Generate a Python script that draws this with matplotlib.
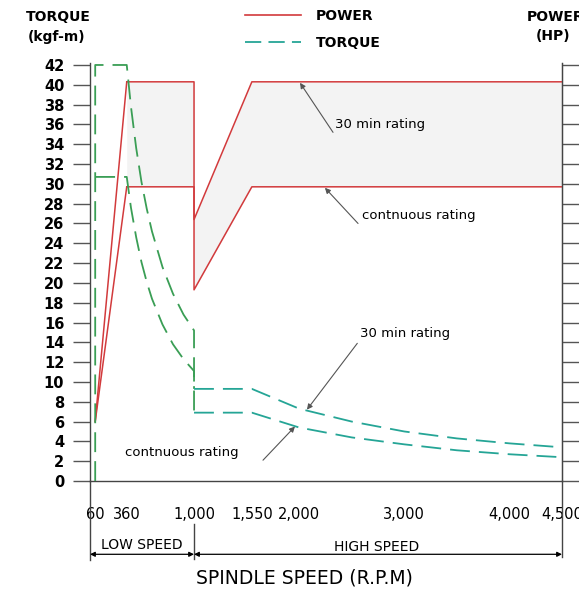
import matplotlib
matplotlib.use('Agg')
import matplotlib.pyplot as plt
from matplotlib.lines import Line2D

# ---------------- data ----------------
# power (HP) : low-speed rise from 60 to 360 rpm
speed_rise = [60, 360]
power_30_rise = [6.0, 40.3]
power_cont_rise = [6.0, 29.7]
# power (HP) : 360 -> 4500 rpm
speed_power = [360, 1000, 1000, 1550, 4500]
power_30 = [40.3, 40.3, 26.4, 40.3, 40.3]
power_cont = [29.7, 29.7, 19.3, 29.7, 29.7]

# torque (kgf-m) low speed
speed_low_30 = [60, 60, 360, 400, 450, 500, 550, 600, 700, 800, 900, 1000, 1000]
torque_low_30 = [0, 42, 42, 37.8, 33.6, 30.2, 27.5, 25.2, 21.6, 18.9, 16.8, 15.2, 9.3]
speed_low_cont = [60, 360, 400, 450, 500, 550, 600, 700, 800, 900, 1000, 1000]
torque_low_cont = [30.7, 30.7, 27.6, 24.6, 22.1, 20.1, 18.4, 15.8, 13.8, 12.3, 11.1, 6.9]

# torque (kgf-m) high speed
speed_high = [1000, 1550, 2000, 2500, 3000, 3500, 4000, 4500]
torque_high_30 = [9.3, 9.3, 7.3, 6.0, 5.0, 4.3, 3.8, 3.4]
torque_high_cont = [6.9, 6.9, 5.4, 4.4, 3.7, 3.1, 2.7, 2.4]

x_ticks = [60, 360, 1000, 1550, 2000, 3000, 4000, 4500]
x_labels = ['60', '360', '1,000', '1,550', '2,000', '3,000', '4,000', '4,500']
y_ticks = list(range(0, 43, 2))

RED = '#d23a3c'
GREEN = '#3a9e55'
TEAL = '#25a596'
FILL = '#f3f3f3'
GREY = '#555555'

W, H = 579, 589
fig = plt.figure(figsize=(W / 100, H / 100), dpi=100)
fig.patch.set_facecolor('white')


def fx(px):
    return px / W


def fy(py):
    return 1 - py / H


ax = fig.add_axes([fx(90), fy(481), fx(562) - fx(90), fy(63) - fy(481)])
ax.set_xlim(10.5, 4500)
ax.set_ylim(0, 42.2)

# shading between power ratings
ax.fill_between(speed_power, power_cont, power_30, color=FILL, zorder=1, lw=0)

# power lines
ax.plot(speed_rise, power_30_rise, color=RED, lw=1.1, zorder=3)
ax.plot(speed_rise, power_cont_rise, color=RED, lw=1.1, zorder=3)
ax.plot(speed_power, power_30, color=RED, lw=1.1, zorder=3)
ax.plot(speed_power, power_cont, color=RED, lw=1.1, zorder=3)

# torque lines
dash = (0, (11, 5))
ax.plot(speed_low_30, torque_low_30, color=GREEN, lw=1.3, ls=dash, zorder=4)
ax.plot(speed_low_cont, torque_low_cont, color=GREEN, lw=1.3, ls=dash, zorder=4)
ax.plot(speed_high, torque_high_30, color=TEAL, lw=1.3, ls=dash, zorder=4)
ax.plot(speed_high, torque_high_cont, color=TEAL, lw=1.3, ls=dash, zorder=4)

# axes styling
ax.spines['top'].set_visible(False)
for s in ['left', 'right', 'bottom']:
    ax.spines[s].set_color('#444444')
    ax.spines[s].set_linewidth(1.0)

ax.set_yticks(y_ticks)
ax.set_yticklabels([str(v) for v in y_ticks])
ax.tick_params(axis='y', direction='out', length=12, width=1, color='#555555',
               pad=6.5, labelsize=10.5)
for lab in ax.get_yticklabels():
    lab.set_fontweight('bold')

ax.set_xticks(x_ticks)
ax.set_xticklabels(x_labels)
ax.tick_params(axis='x', length=0, pad=19, labelsize=10.5)

ax2 = ax.twinx()
ax2.set_ylim(ax.get_ylim())
ax2.set_yticks(y_ticks)
ax2.set_yticklabels([])
ax2.tick_params(axis='y', direction='out', length=12, width=1, color='#555555')
for s in ['top', 'left', 'bottom']:
    ax2.spines[s].set_visible(False)
ax2.spines['right'].set_color('#444444')
ax2.patch.set_visible(False)

# extensions below the axis
ax.plot([10.5, 10.5], [0, -8.0], color='#444444', lw=1.0, clip_on=False)
ax.plot([4500, 4500], [0, -7.7], color='#444444', lw=1.0, clip_on=False)
ax.plot([1000, 1000], [-4.3, -7.9], color='#444444', lw=1.0, clip_on=False)

arr = dict(arrowstyle='<|-|>', lw=0.9, color='black', mutation_scale=7,
           shrinkA=0, shrinkB=0)
ax.annotate('', xy=(10.5, -7.4), xytext=(1000, -7.4), arrowprops=arr,
            annotation_clip=False)
ax.annotate('', xy=(1000, -7.4), xytext=(4500, -7.4), arrowprops=arr,
            annotation_clip=False)
ax.text(505, -6.5, 'LOW SPEED', ha='center', va='center', fontsize=10)
ax.text(2741, -6.7, 'HIGH SPEED', ha='center', va='center', fontsize=10)

fig.text(fx(304), fy(578), 'SPINDLE SPEED (R.P.M)', ha='center', va='center',
         fontsize=13.5)

# axis titles
fig.text(fx(58), fy(17), 'TORQUE', ha='center', va='center', fontsize=10,
         fontweight='bold')
fig.text(fx(57), fy(37), '(kgf-m)', ha='center', va='center', fontsize=10,
         fontweight='bold')
fig.text(fx(527), fy(17), 'POWER', ha='left', va='center', fontsize=10,
         fontweight='bold')
fig.text(fx(553), fy(36), '(HP)', ha='center', va='center', fontsize=10,
         fontweight='bold')

# annotations
thin = dict(arrowstyle='-|>', lw=0.8, color=GREY, mutation_scale=8,
            shrinkA=0, shrinkB=0)
ax.text(2341, 36.0, '30 min rating', ha='left', va='center', fontsize=9.5)
ax.annotate('', xy=(2008, 40.2), xytext=(2322, 35.2), arrowprops=thin)

ax.text(2597, 26.8, 'contnuous rating', ha='left', va='center', fontsize=9.5)
ax.annotate('', xy=(2245, 29.6), xytext=(2560, 26.0), arrowprops=thin)

ax.text(2578, 14.9, '30 min rating', ha='left', va='center', fontsize=9.5)
ax.annotate('', xy=(2074, 7.2), xytext=(2553, 13.9), arrowprops=thin)

ax.text(345, 2.9, 'contnuous rating', ha='left', va='center', fontsize=9.5)
ax.annotate('', xy=(1960, 5.5), xytext=(1656, 2.1), arrowprops=thin,
            annotation_clip=False)

# legend
handles = [Line2D([], [], color=RED, lw=1.2),
           Line2D([], [], color=TEAL, lw=1.3, ls=(0, (9, 4)))]
fig.legend(handles, ['POWER', 'TORQUE'], loc='upper left',
           bbox_to_anchor=(fx(245), fy(9)), frameon=False,
           prop=dict(weight='bold', size=10), handlelength=4,
           handletextpad=1.1, labelspacing=0.95, borderpad=0,
           borderaxespad=0)

fig.savefig('out.png', dpi=100)
